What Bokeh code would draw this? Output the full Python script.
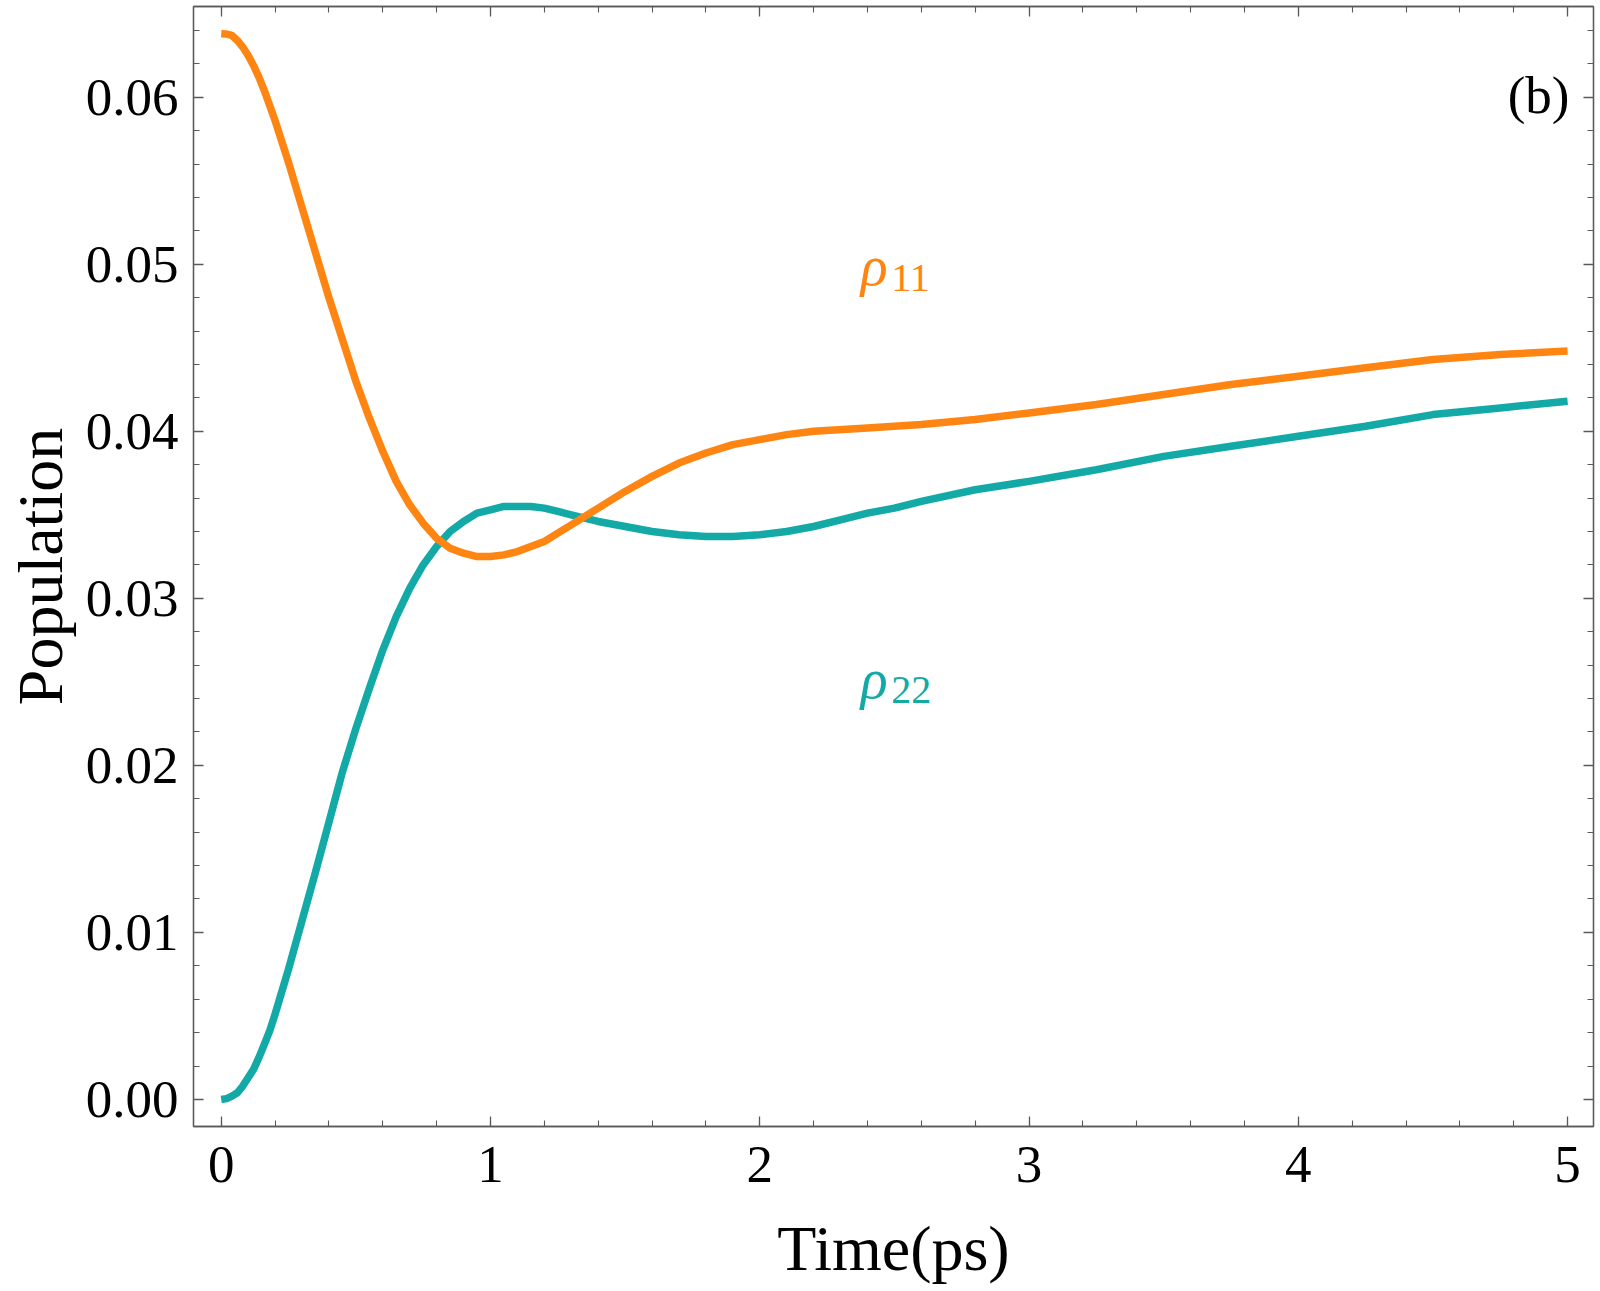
from bokeh.plotting import figure
from bokeh.models import (Range1d, LinearAxis, SingleIntervalTicker, NumeralTickFormatter,
                          CustomLabelingPolicy)
from bokeh.core.properties import value
from bokeh.embed import file_html
from bokeh.resources import INLINE

# ---- data ----
t_rho11 = [0.00, 0.02, 0.04, 0.06, 0.08, 0.10, 0.12, 0.14, 0.16, 0.18, 0.20, 0.25, 0.30,
           0.35, 0.40, 0.45, 0.50, 0.55, 0.60, 0.65, 0.70, 0.75, 0.80, 0.85, 0.90, 0.95,
           1.00, 1.05, 1.10, 1.15, 1.20, 1.25, 1.30, 1.40, 1.50, 1.60, 1.70, 1.80, 1.90,
           2.00, 2.10, 2.20, 2.40, 2.60, 2.80, 3.00, 3.25, 3.50, 3.75, 4.00, 4.25, 4.50,
           4.75, 5.00]
rho11 = [0.0638, 0.06378, 0.0637, 0.0634, 0.0630, 0.0625, 0.0619, 0.0612, 0.0604, 0.0595,
         0.0586, 0.0561, 0.0534, 0.0507, 0.0480, 0.0455, 0.0430, 0.0408, 0.0388, 0.0370,
         0.0356, 0.0345, 0.0336, 0.0330, 0.0327, 0.0325, 0.0325, 0.0326, 0.0328, 0.0331,
         0.0334, 0.0339, 0.0344, 0.0354, 0.0364, 0.0373, 0.0381, 0.0387, 0.0392, 0.0395,
         0.0398, 0.0400, 0.0402, 0.0404, 0.0407, 0.0411, 0.0416, 0.0422, 0.0428, 0.0433,
         0.0438, 0.0443, 0.0446, 0.0448]

t_rho22 = [0.00, 0.02, 0.04, 0.06, 0.08, 0.10, 0.12, 0.14, 0.16, 0.18, 0.20, 0.25, 0.30,
           0.35, 0.40, 0.45, 0.50, 0.55, 0.60, 0.65, 0.70, 0.75, 0.80, 0.85, 0.90, 0.95,
           1.00, 1.05, 1.10, 1.15, 1.20, 1.25, 1.30, 1.40, 1.50, 1.60, 1.70, 1.80, 1.90,
           2.00, 2.10, 2.20, 2.30, 2.40, 2.50, 2.60, 2.80, 3.00, 3.25, 3.50, 3.75, 4.00,
           4.25, 4.50, 4.75, 5.00]
rho22 = [0.0, 0.00005, 0.0002, 0.0004, 0.0008, 0.0013, 0.0018, 0.0025, 0.0033, 0.0041,
         0.0051, 0.0078, 0.0107, 0.0136, 0.0166, 0.0196, 0.0222, 0.0246, 0.0269, 0.0289,
         0.0306, 0.0320, 0.0331, 0.0340, 0.0346, 0.0351, 0.0353, 0.0355, 0.0355, 0.0355,
         0.0354, 0.0352, 0.0350, 0.0346, 0.0343, 0.0340, 0.0338, 0.0337, 0.0337, 0.0338,
         0.0340, 0.0343, 0.0347, 0.0351, 0.0354, 0.0358, 0.0365, 0.0370, 0.0377, 0.0385,
         0.0391, 0.0397, 0.0403, 0.0410, 0.0414, 0.0418]

series_names = ["\u03c1", "\u03c1"]
series_subs = ["11", "22"]
label_x = [2.375, 2.375]
label_y = [0.0499, 0.0252]
sub_x = [2.488, 2.488]
sub_y = [0.0492, 0.0245]
panel_tag = "(b)"
x_label = "Time(ps)"
y_label = "Population"

ORANGE = "#FF8512"
TEAL = "#12A9A7"
AX = "#5a5a5a"
FONT = "Liberation Serif"

p = figure(width=1600, height=1291, output_backend="svg", toolbar_location=None,
           x_range=Range1d(-0.1029, 5.0962), y_range=Range1d(-0.00162, 0.06543),
           min_border_left=193, min_border_right=7, min_border_top=6, min_border_bottom=165,
           background_fill_color="white", border_fill_color="white")
p.grid.visible = False
p.outline_line_color = AX
p.outline_line_width = 1.3

hide_all = CustomLabelingPolicy(code="for (const i of indices) { indices.unset(i) } return indices")

def style(ax, ticker, labels=True):
    ax.ticker = ticker
    ax.axis_line_color = AX
    ax.axis_line_width = 1.3
    ax.major_tick_line_color = AX
    ax.minor_tick_line_color = AX
    ax.major_tick_line_width = 1.3
    ax.minor_tick_line_width = 1.1
    ax.major_tick_in = 10
    ax.major_tick_out = 0
    ax.minor_tick_in = 6
    ax.minor_tick_out = 0
    if labels:
        ax.major_label_text_font = FONT
        ax.major_label_text_font_size = "53px"
        ax.major_label_text_color = "black"
        ax.axis_label_text_font = FONT
        ax.axis_label_text_font_size = "64px"
        ax.axis_label_text_font_style = "normal"
        ax.axis_label_text_color = "black"
    else:
        ax.major_label_text_font_size = "0px"
        ax.major_label_standoff = 0
        ax.major_label_policy = hide_all

xa = p.xaxis[0]
style(xa, SingleIntervalTicker(interval=1, num_minor_ticks=5))
xa.axis_label = x_label
xa.major_label_standoff = 20
xa.axis_label_standoff = 28

ya = p.yaxis[0]
style(ya, SingleIntervalTicker(interval=0.01, num_minor_ticks=5))
ya.axis_label = y_label
ya.formatter = NumeralTickFormatter(format="0.00")
ya.major_label_standoff = 15
ya.axis_label_standoff = 7

top = LinearAxis()
style(top, SingleIntervalTicker(interval=1, num_minor_ticks=5), labels=False)
p.add_layout(top, "above")
right = LinearAxis()
style(right, SingleIntervalTicker(interval=0.01, num_minor_ticks=5), labels=False)
p.add_layout(right, "right")

p.line(t_rho22, rho22, line_color=TEAL, line_width=7.5, line_join="round")
p.line(t_rho11, rho11, line_color=ORANGE, line_width=7.5, line_join="round")

colors = [ORANGE, TEAL]
p.text(x=label_x, y=label_y, text=series_names, text_color=colors,
       text_font=value(FONT), text_font_style="italic", text_font_size="56px",
       text_align="left", text_baseline="alphabetic")
p.text(x=sub_x, y=sub_y, text=series_subs, text_color=colors,
       text_font=value(FONT), text_font_size="40px",
       text_align="left", text_baseline="alphabetic")
p.text(x=[5.007], y=[0.06015], text=[panel_tag], text_color="black",
       text_font=value(FONT), text_font_size="53px",
       text_align="right", text_baseline="alphabetic")

open("out.html", "w").write(file_html(p, INLINE))
